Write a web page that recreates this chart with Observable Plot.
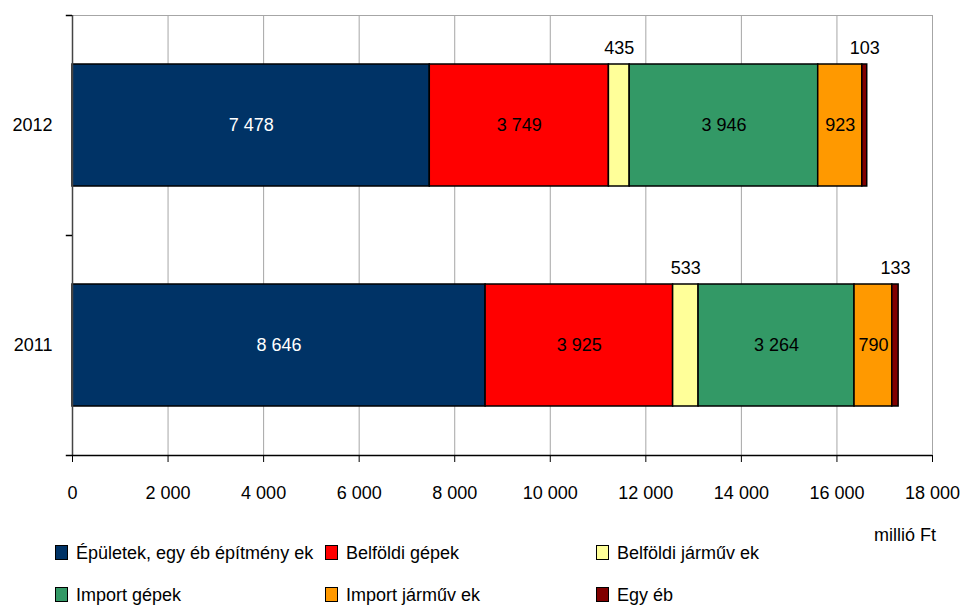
<!DOCTYPE html>
<html>
<head>
<meta charset="utf-8">
<script src="https://cdn.jsdelivr.net/npm/d3@7"></script>
<script src="https://cdn.jsdelivr.net/npm/@observablehq/plot@0.6"></script>
<style>
  body { margin: 0; background: #fff; font-family: "Liberation Sans", Arial, sans-serif; }
  #wrap { position: relative; width: 962px; height: 606px; }
  .lg { position: absolute; font-size: 18px; color: #000; white-space: nowrap; line-height: 20px; }
  .sw { position: absolute; width: 11px; height: 13px; border: 1.5px solid #000; }
  #unit { position: absolute; left: 874px; top: 525px; font-size: 18px; line-height: 20px; }
</style>
</head>
<body>
<div id="wrap"></div>
<script>
const years = ["2012", "2011"];
const categories = ["Épületek, egy éb építmény ek", "Belföldi gépek", "Belföldi járműv ek", "Import gépek", "Import járműv ek", "Egy éb"];
const colors = ["#003366", "#ff0000", "#ffff99", "#339966", "#ff9900", "#800000"];
const values2012 = [7478, 3749, 435, 3946, 923, 103];
const values2011 = [8646, 3925, 533, 3264, 790, 133];
const xTicks = [0, 2000, 4000, 6000, 8000, 10000, 12000, 14000, 16000, 18000];

const seriesByYear = {"2012": values2012, "2011": values2011};
const data = [];
for (const y of years) {
  seriesByYear[y].forEach((v, i) => data.push({year: y, cat: categories[i], idx: i, value: v}));
}
const fmt = v => d3.format(",")(v).replace(/,/g, " ");
const isSmall = d => d.value < 600;
const font = "'Liberation Sans', Arial, sans-serif";

const stackOpts = (extra) => Plot.stackX({y: "year", x: "value", z: "cat", order: null, ...extra});

const chart = Plot.plot({
  width: 962,
  height: 525,
  marginLeft: 72,
  marginRight: 30,
  marginTop: 15,
  marginBottom: 70,
  style: {fontFamily: font, fontSize: "18px", color: "#000", background: "#fff"},
  x: {domain: [0, 18000], ticks: xTicks, tickFormat: fmt, label: null},
  y: {domain: years, padding: 0, label: null},
  color: {domain: categories, range: colors},
  marks: [
    Plot.ruleX(xTicks.slice(1), {stroke: "#a6a6a6", strokeWidth: 1}),
    Plot.ruleY(["2012"], {y: d => d, dy: -110, x1: 0, x2: 18000, stroke: "#a6a6a6"}),
    Plot.barX(data, stackOpts({
      fill: "cat", stroke: "#000", strokeWidth: 1.5, insetTop: 49, insetBottom: 49
    })),
    Plot.text(data, stackOpts({
      text: d => isSmall(d) ? "" : fmt(d.value),
      fill: d => d.idx === 0 ? "#fff" : "#000", fontSize: 18
    })),
    Plot.text(data, stackOpts({
      text: d => isSmall(d) ? fmt(d.value) : "",
      fill: "#000", fontSize: 18, dy: -77
    })),
    Plot.ruleX([0], {stroke: "#444", strokeWidth: 1.5}),
    Plot.ruleY(years, {y: d => d, dy: -110, x1: -130, x2: 0, stroke: "#000", strokeWidth: 1.5}),
    Plot.ruleY(["2011"], {y: d => d, dy: 110, x1: -130, x2: 18000, stroke: "#000", strokeWidth: 1.5}),
    Plot.axisX({ticks: xTicks, tickFormat: fmt, tickSize: 7, tickPadding: 24, stroke: "#000", fontSize: 18, label: null}),
    Plot.axisY({tickSize: 0, tickPadding: 20, fontSize: 18, label: null})
  ]
});

const wrap = document.getElementById("wrap");
wrap.appendChild(chart);

const unit = document.createElement("div");
unit.id = "unit";
unit.textContent = "millió Ft";
wrap.appendChild(unit);

const colX = [55, 325, 596];
const rowY = [553, 595];
categories.forEach((c, i) => {
  const col = i % 3, row = Math.floor(i / 3);
  const sw = document.createElement("div");
  sw.className = "sw";
  sw.style.left = colX[col] + "px";
  sw.style.top = (rowY[row] - 8) + "px";
  sw.style.background = colors[i];
  wrap.appendChild(sw);
  const t = document.createElement("div");
  t.className = "lg";
  t.style.left = (colX[col] + 21) + "px";
  t.style.top = (rowY[row] - 10) + "px";
  t.textContent = c;
  wrap.appendChild(t);
});
</script>
</body>
</html>
